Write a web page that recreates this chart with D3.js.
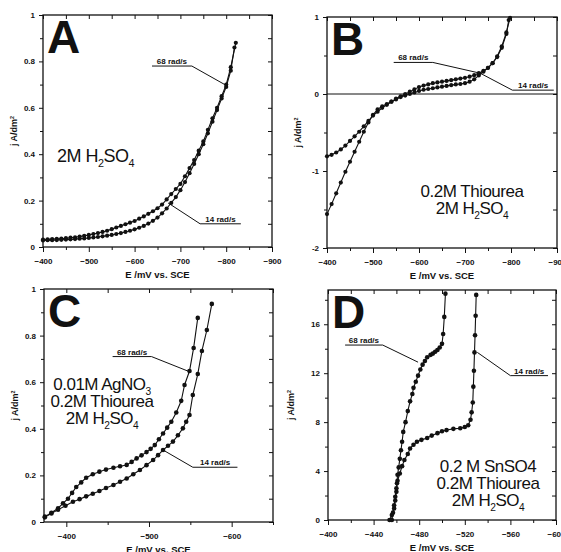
<!DOCTYPE html>
<html>
<head>
<meta charset="utf-8">
<script src="https://cdn.jsdelivr.net/npm/d3@7/dist/d3.min.js"></script>
<style>
  body { margin: 0; background: #fff; }
  svg text { font-family: "Liberation Sans", Arial, sans-serif; fill: #111; }
  .tick text { font-weight: bold; font-size: 8px; }
  .tick line { stroke: #111; stroke-width: 1; }
  .curve { fill: none; stroke: #111; stroke-width: 1.1; }
  .dot { fill: #111; }
  .lead { stroke: #111; stroke-width: 1; }
</style>
</head>
<body>
<div id="chart"></div>
<script>
// ---- Panel A : 2M H2SO4 ----
var aE68 = [-400,-410,-420,-430,-440,-450,-460,-470,-480,-490,-500,-510,-520,-530,-540,-550,-560,-570,-580,-590,-600,-610,-620,-630,-640,-650,-660,-670,-680,-690,-700,-710,-720,-730,-740,-750,-760,-770,-780,-790,-800,-810,-821];
var aJ68 = [0.032,0.033,0.034,0.035,0.036,0.038,0.040,0.042,0.045,0.048,0.052,0.056,0.060,0.065,0.070,0.077,0.084,0.091,0.098,0.105,0.112,0.122,0.132,0.143,0.154,0.167,0.183,0.205,0.228,0.250,0.272,0.305,0.340,0.375,0.415,0.455,0.505,0.555,0.600,0.650,0.700,0.775,0.880];
var aE14 = [-400,-410,-420,-430,-440,-450,-460,-470,-480,-490,-500,-510,-520,-530,-540,-550,-560,-570,-580,-590,-600,-610,-620,-630,-640,-650,-660,-670,-680,-690,-700,-710,-720,-730,-740,-750,-760,-770,-780,-790,-800,-810,-818];
var aJ14 = [0.028,0.029,0.029,0.030,0.031,0.032,0.033,0.034,0.036,0.037,0.039,0.041,0.043,0.046,0.049,0.052,0.056,0.060,0.065,0.070,0.076,0.083,0.091,0.101,0.113,0.127,0.145,0.166,0.190,0.215,0.245,0.280,0.318,0.358,0.400,0.443,0.490,0.540,0.590,0.640,0.690,0.760,0.860];
var aXTicks = [-400,-500,-600,-700,-800,-900];
var aXMinor = [-450,-550,-650,-750,-850];
var aYTicks = [0,0.2,0.4,0.6,0.8,1];
var aYMinor = [0.1,0.3,0.5,0.7,0.9];

// ---- Panel B : 0.2M Thiourea ----
var bE68 = [-400,-410,-420,-430,-440,-450,-460,-470,-480,-490,-500,-510,-520,-530,-540,-550,-560,-570,-580,-590,-600,-610,-620,-630,-640,-650,-660,-670,-680,-690,-700,-710,-720,-730,-740,-750,-760,-770,-780,-790,-795];
var bJ68 = [-1.56,-1.43,-1.29,-1.15,-1.01,-0.88,-0.75,-0.62,-0.49,-0.37,-0.27,-0.20,-0.16,-0.13,-0.10,-0.07,-0.04,-0.02,0.00,0.02,0.04,0.055,0.065,0.075,0.085,0.095,0.105,0.115,0.125,0.13,0.14,0.16,0.19,0.24,0.29,0.34,0.40,0.48,0.60,0.78,0.96];
var bE14 = [-400,-410,-420,-430,-440,-450,-460,-470,-480,-490,-500,-510,-520,-530,-540,-550,-560,-570,-580,-590,-600,-610,-620,-630,-640,-650,-660,-670,-680,-690,-700,-710,-720,-730,-740,-750,-760,-770,-780,-790,-798];
var bJ14 = [-0.81,-0.79,-0.76,-0.72,-0.67,-0.61,-0.55,-0.49,-0.42,-0.35,-0.28,-0.23,-0.18,-0.14,-0.10,-0.06,-0.03,0.00,0.03,0.06,0.09,0.11,0.125,0.14,0.15,0.16,0.17,0.18,0.19,0.20,0.21,0.225,0.245,0.27,0.30,0.34,0.40,0.49,0.62,0.80,0.99];
var bXTicks = [-400,-500,-600,-700,-800,-900];
var bXMinor = [-450,-550,-650,-750,-850];
var bYTicks = [-2,-1,0,1];
var bYMinor = [-1.5,-0.5,0.5];

// ---- Panel C : 0.01M AgNO3 ----
var cE68 = [-374,-382,-390,-396,-402,-407,-412,-418,-424,-432,-440,-448,-457,-465,-473,-479,-485,-491,-497,-502,-507,-512,-517,-522,-527,-533,-539,-543,-549,-554,-559];
var cJ68 = [0.023,0.040,0.059,0.080,0.100,0.125,0.150,0.170,0.190,0.205,0.216,0.225,0.233,0.239,0.245,0.258,0.273,0.286,0.300,0.314,0.330,0.355,0.380,0.405,0.430,0.470,0.520,0.588,0.648,0.747,0.876];
var cE14 = [-374,-382,-390,-399,-408,-416,-424,-432,-440,-448,-457,-465,-473,-481,-489,-497,-505,-511,-517,-523,-529,-535,-541,-545,-549,-553,-559,-564,-570,-576];
var cJ14 = [0.020,0.037,0.053,0.070,0.087,0.098,0.110,0.121,0.133,0.146,0.159,0.173,0.187,0.205,0.223,0.244,0.266,0.287,0.309,0.327,0.345,0.372,0.402,0.430,0.459,0.545,0.635,0.734,0.824,0.936];
var cXTicks = [-400,-500,-600];
var cXMinor = [-450,-550,-650];
var cYTicks = [0,0.2,0.4,0.6,0.8,1];
var cYMinor = [0.1,0.3,0.5,0.7,0.9];

// ---- Panel D : 0.2 M SnSO4 ----
var dE68 = [-454,-456,-458,-459,-460,-460.5,-461,-462,-463,-464,-465,-466,-468,-470,-472,-474,-475,-477,-479,-481,-483,-485,-487,-490,-492,-494,-496,-498,-500,-501,-502,-503];
var dJ68 = [0,0.4,0.95,1.6,2.3,3.0,3.7,4.3,5.0,5.7,6.4,7.2,8.0,8.9,9.7,10.3,10.8,11.3,11.8,12.3,12.7,13.0,13.3,13.5,13.6,13.75,13.9,14.1,14.4,15.2,16.6,18.5];
var dE14 = [-456,-457,-458,-459,-460,-461,-463,-465,-467,-470,-472,-475,-478,-482,-487,-491,-496,-500,-504,-510,-516,-520,-523,-525,-526,-527,-527.5,-528,-528.5,-529,-529.5,-530];
var dJ14 = [0,0.6,1.2,1.9,2.6,3.2,3.8,4.4,4.9,5.4,5.85,6.15,6.4,6.55,6.7,6.9,7.1,7.25,7.35,7.45,7.5,7.6,7.75,8.2,8.8,9.6,10.9,12.2,13.7,15.1,16.7,18.4];
var dXTicks = [-400,-440,-480,-520,-560,-600];
var dXMinor = [-420,-460,-500,-540,-580];
var dYTicks = [0,4,8,12,16];
var dYMinor = [2,6,10,14,18];

var zip = function(e, j){ return e.map(function(v, i){ return {e: v, j: j[i]}; }); };

var panels = [
  { letter:"A", left:43, top:15, width:229, height:232, xDomain:[-400,-900], yDomain:[0,1],
    xTicks:aXTicks, xMinor:aXMinor, yTicks:aYTicks, yMinor:aYMinor, yTitleX:-26,
    series:[zip(aE68,aJ68), zip(aE14,aJ14)], dotR:2.1,
    labels:[{text:"68 rad/s", u0:-638, u1:-725, uy:0.78, from:-725, tx:-797, ty:0.70},
            {text:"14 rad/s", u0:-743, u1:-832, uy:0.10, from:-743, tx:-673, ty:0.19}],
    note:{x:14, y:147, anchor:"start", size:18, lines:[[["2M H"],["2",1],["SO"],["4",1]]]} },
  { letter:"B", left:327, top:17, width:230, height:231, xDomain:[-400,-900], yDomain:[-2,1],
    xTicks:bXTicks, xMinor:bXMinor, yTicks:bYTicks, yMinor:bYMinor, yTitleX:-26, zeroLine:true,
    series:[zip(bE68,bJ68), zip(bE14,bJ14)], dotR:2.1,
    labels:[{text:"68 rad/s", u0:-545, u1:-630, uy:0.41, from:-630, tx:-733, ty:0.27},
            {text:"14 rad/s", u0:-803, u1:-893, uy:0.05, from:-803, tx:-733, ty:0.27}],
    note:{x:145, y:180, anchor:"middle", size:17, lines:[[["0.2M Thiourea"]],[["2M H"],["2",1],["SO"],["4",1]]]} },
  { letter:"C", left:44, top:289, width:229, height:233, xDomain:[-373,-650], yDomain:[0,1],
    xTicks:cXTicks, xMinor:cXMinor, yTicks:cYTicks, yMinor:cYMinor, yTitleX:-26,
    series:[zip(cE68,cJ68), zip(cE14,cJ14)], dotR:2.3,
    labels:[{text:"68 rad/s", u0:-456, u1:-503, uy:0.71, from:-503, tx:-549, ty:0.645},
            {text:"14 rad/s", u0:-553, u1:-607, uy:0.235, from:-553, tx:-517, ty:0.309}],
    note:{x:58, y:101, anchor:"middle", size:17, lines:[[["0.01M AgNO"],["3",1]],[["0.2M Thiourea"]],[["2M H"],["2",1],["SO"],["4",1]]]} },
  { letter:"D", left:328, top:290, width:228, height:230, xDomain:[-400,-600], yDomain:[0,18.8],
    xTicks:dXTicks, xMinor:dXMinor, yTicks:dYTicks, yMinor:dYMinor, yTitleX:-34,
    series:[zip(dE68,dJ68), zip(dE14,dJ14)], dotR:2.3,
    labels:[{text:"68 rad/s", u0:-415, u1:-448, uy:14.3, from:-448, tx:-479, ty:12.9},
            {text:"14 rad/s", u0:-560, u1:-593, uy:11.8, from:-560, tx:-531, ty:13.7}],
    note:{x:160, y:182, anchor:"middle", size:17, lines:[[["0.2 M SnSO4"]],[["0.2M Thiourea"]],[["2M H"],["2",1],["SO"],["4",1]]]} }
];

//Prepare playground
var svg = d3.select("#chart").append("svg")
  .attr("width", 561)
  .attr("height", 552);

svg.append("rect").attr("width", 561).attr("height", 552).attr("fill", "#fff");

// text with sub/superscript parts: [text, 1 = sub, -1 = sup]
function richText(g, x, y, parts, anchor, size, weight){
  var t = g.append("text").attr("x", x).attr("y", y)
    .attr("text-anchor", anchor).style("font-size", size + "px")
    .style("font-weight", weight || "normal");
  var shift = 0;
  parts.forEach(function(p){
    var s = p[1] ? p[1] * size * 0.28 : 0;
    t.append("tspan")
      .attr("dy", s - shift)
      .style("font-size", p[1] ? (size * 0.6) + "px" : size + "px")
      .text(p[0]);
    shift = s;
  });
  return t;
}

function drawPanel(p){
  var g = svg.append("g");

  //Prepare scales
  var x = d3.scaleLinear().domain(p.xDomain).range([p.left, p.left + p.width]);
  var y = d3.scaleLinear().domain(p.yDomain).range([p.top + p.height, p.top]);
  var bottom = p.top + p.height, right = p.left + p.width;

  // bottom axis, labelled, ticks outward
  var bx = g.append("g").attr("transform", "translate(0," + bottom + ")");
  bx.call(d3.axisBottom(x).tickValues(p.xTicks).tickSize(5).tickPadding(6).tickFormat(d3.format("d")));
  bx.append("g").call(d3.axisBottom(x).tickValues(p.xMinor).tickSize(3).tickFormat(""));

  // top axis, ticks inward
  var tx = g.append("g").attr("transform", "translate(0," + p.top + ")");
  tx.call(d3.axisTop(x).tickValues(p.xTicks.concat(p.xMinor)).tickSize(-4).tickFormat(""));

  // left axis, labelled
  var ly = g.append("g").attr("transform", "translate(" + p.left + ",0)");
  ly.call(d3.axisLeft(y).tickValues(p.yTicks).tickSize(4).tickPadding(4).tickFormat(function(d){ return String(d); }));
  ly.append("g").call(d3.axisLeft(y).tickValues(p.yMinor).tickSize(3).tickFormat(""));

  // right axis, ticks inward
  var ry = g.append("g").attr("transform", "translate(" + right + ",0)");
  ry.call(d3.axisRight(y).tickValues(p.yTicks.concat(p.yMinor)).tickSize(-4).tickFormat(""));

  g.selectAll(".domain").remove();

  // frame
  g.append("rect")
    .attr("x", p.left).attr("y", p.top)
    .attr("width", p.width).attr("height", p.height)
    .attr("fill", "none").attr("stroke", "#111").attr("stroke-width", 1.3);

  if(p.zeroLine){
    g.append("line").attr("class", "lead")
      .attr("x1", p.left).attr("x2", right)
      .attr("y1", y(0)).attr("y2", y(0)).attr("stroke-width", 1.3);
  }

  // curves
  var line = d3.line().x(function(d){ return x(d.e); }).y(function(d){ return y(d.j); });
  p.series.forEach(function(s){
    g.append("path").datum(s).attr("class", "curve").attr("d", line);
    g.selectAll(null).data(s).enter().append("circle")
      .attr("class", "dot")
      .attr("cx", function(d){ return x(d.e); })
      .attr("cy", function(d){ return y(d.j); })
      .attr("r", p.dotR);
  });

  // rotation speed labels with leader lines
  p.labels.forEach(function(l){
    var x0 = Math.min(x(l.u0), x(l.u1)), x1 = Math.max(x(l.u0), x(l.u1));
    g.append("text")
      .attr("x", (x0 + x1) / 2).attr("y", y(l.uy) - 2)
      .attr("text-anchor", "middle")
      .style("font-size", "8px").style("font-weight", "bold")
      .text(l.text);
    g.append("line").attr("class", "lead")
      .attr("x1", x0).attr("x2", x1).attr("y1", y(l.uy)).attr("y2", y(l.uy));
    g.append("line").attr("class", "lead")
      .attr("x1", x(l.from)).attr("y1", y(l.uy))
      .attr("x2", x(l.tx)).attr("y2", y(l.ty));
  });

  // panel letter
  g.append("text")
    .attr("x", p.left + 4).attr("y", p.top + 38)
    .style("font-size", "46px").style("font-weight", "bold")
    .text(p.letter);

  // solution note
  p.note.lines.forEach(function(parts, i){
    richText(g, p.left + p.note.x, p.top + p.note.y + i * 17, parts, p.note.anchor, p.note.size)
      .style("letter-spacing", "-0.5px");
  });

  // axis titles
  g.append("text")
    .attr("x", (p.left + right) / 2).attr("y", bottom + 31)
    .attr("text-anchor", "middle")
    .style("font-size", "9.5px").style("font-weight", "bold")
    .text("E /mV vs. SCE");

  var yt = g.append("g").attr("transform", "translate(" + (p.left + p.yTitleX) + "," + (p.top + p.height / 2) + ") rotate(-90)");
  richText(yt, 0, 0, [["j A/dm"], ["2", -1]], "middle", 9, "bold");
}

panels.forEach(drawPanel);
</script>
</body>
</html>
